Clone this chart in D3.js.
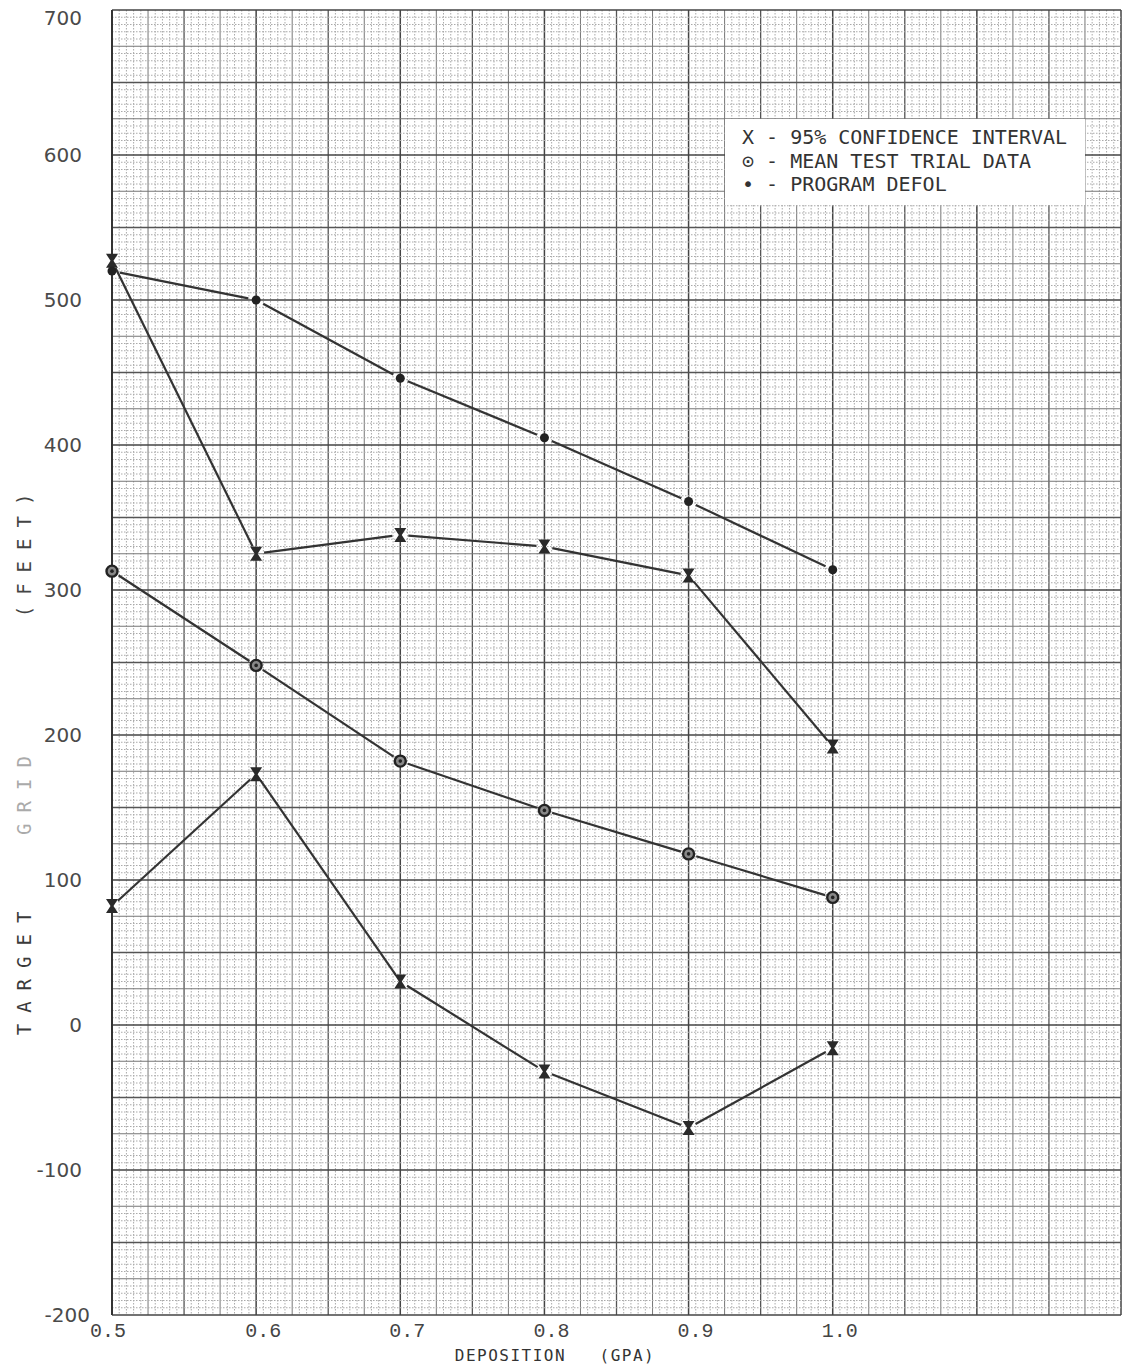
<!DOCTYPE html>
<html>
<head>
<meta charset="utf-8">
<script src="https://cdn.jsdelivr.net/npm/d3@7"></script>
<style>
  body { margin: 0; background: #fff; }
</style>
</head>
<body>
<div id="chart"></div>
<script>
const xValues = [0.5, 0.6, 0.7, 0.8, 0.9, 1.0]
const upperCI = [527, 325, 338, 330, 310, 192]
const meanTrial = [313, 248, 182, 148, 118, 88]
const programDefol = [520, 500, 446, 405, 361, 314]
const lowerCI = [82, 173, 30, -32, -71, -16]

const xTicks = [0.5, 0.6, 0.7, 0.8, 0.9, 1.0]
const yTicks = [-200, -100, 0, 100, 200, 300, 400, 500, 600, 700]
const legendLabels = ["X - 95% CONFIDENCE INTERVAL", "\u2299 - MEAN TEST TRIAL DATA", "\u2022 - PROGRAM DEFOL"]

const W = 1126, H = 1367
const x = d3.scaleLinear().domain([0.5, 1.2]).range([112, 1121])
const y = d3.scaleLinear().domain([-200, 700]).range([1315, 10])

const svg = d3.select('#chart').append('svg')
    .attr('width', W).attr('height', H)

const grid = svg.append('g')

// minor grid: 0.005 in x, 5 units in y
const xMinor = d3.range(0, 141).map(i => 0.5 + i * 0.005)
const yMinor = d3.range(0, 181).map(i => -200 + i * 5)

function lineStyle(i) {
    if (i % 20 === 0) return ['#444', 1.5, null]
    if (i % 10 === 0) return ['#555', 1.3, null]
    if (i % 5 === 0) return ['#777', 1, null]
    return ['#aaa', 1, '1.5,1.5']
}

// draw minor first, then heavier
const vOrder = d3.range(0, 141).sort((a, b) => (a % 5 === 0) - (b % 5 === 0))
grid.selectAll('line.v')
    .data(vOrder)
    .enter().append('line')
    .attr('class', 'v')
    .attr('x1', i => x(xMinor[i])).attr('x2', i => x(xMinor[i]))
    .attr('y1', y(700)).attr('y2', y(-200))
    .attr('stroke', i => lineStyle(i)[0])
    .attr('stroke-width', i => lineStyle(i)[1])
    .attr('stroke-dasharray', i => lineStyle(i)[2])

const hOrder = d3.range(0, 181).sort((a, b) => (a % 5 === 0) - (b % 5 === 0))
grid.selectAll('line.h')
    .data(hOrder)
    .enter().append('line')
    .attr('class', 'h')
    .attr('y1', i => y(yMinor[i])).attr('y2', i => y(yMinor[i]))
    .attr('x1', x(0.5)).attr('x2', x(1.2))
    .attr('stroke', i => lineStyle(i)[0])
    .attr('stroke-width', i => lineStyle(i)[1])
    .attr('stroke-dasharray', i => lineStyle(i)[2])

// left frame
svg.append('line')
    .attr('x1', x(0.5)).attr('x2', x(0.5))
    .attr('y1', y(700)).attr('y2', y(-200))
    .attr('stroke', '#333').attr('stroke-width', 2)

// y tick labels
svg.selectAll('text.ylab')
    .data(yTicks)
    .enter().append('text')
    .attr('class', 'ylab')
    .attr('x', d => d === -200 ? 90 : 82)
    .attr('y', d => Math.max(y(d), 18) + 7)
    .attr('text-anchor', 'end')
    .attr('font-family', 'DejaVu Sans, sans-serif')
    .attr('font-size', 20)
    .attr('fill', '#4a4a4a')
    .text(d => d)

// x tick labels
svg.selectAll('text.xlab')
    .data(xTicks)
    .enter().append('text')
    .attr('class', 'xlab')
    .attr('x', (d, i) => x(d) + (i === 0 ? -4 : 7))
    .attr('y', 1337)
    .attr('text-anchor', 'middle')
    .attr('font-family', 'Liberation Mono, monospace')
    .attr('font-size', 20)
    .attr('fill', '#444')
    .text(d => d.toFixed(1))

svg.append('text')
    .attr('x', 555).attr('y', 1361)
    .attr('text-anchor', 'middle')
    .attr('font-family', 'DejaVu Sans Mono, monospace')
    .attr('font-size', 16)
    .attr('letter-spacing', 1.5)
    .attr('fill', '#333')
    .attr('xml:space', 'preserve')
    .text('DEPOSITION   (GPA)')

// y title pieces
const yTitle = [["TARGET", 968, '#3a3a3a'], ["GRID", 790, '#aaa'], ["(FEET)", 550, '#444']]
svg.selectAll('text.ytitle')
    .data(yTitle)
    .enter().append('text')
    .attr('class', 'ytitle')
    .attr('transform', d => `translate(31,${d[1]}) rotate(-90)`)
    .attr('text-anchor', 'middle')
    .attr('font-family', 'DejaVu Sans Mono, monospace')
    .attr('font-size', 19)
    .attr('letter-spacing', 11)
    .attr('fill', d => d[2])
    .text(d => d[0])

// legend
svg.append('rect')
    .attr('x', 725).attr('y', 119)
    .attr('width', 360).attr('height', 86)
    .attr('fill', '#fff')

svg.selectAll('text.leg')
    .data(legendLabels)
    .enter().append('text')
    .attr('class', 'leg')
    .attr('x', 742)
    .attr('y', (d, i) => 144 + i * 23.5)
    .attr('font-family', 'DejaVu Sans Mono, monospace')
    .attr('font-size', 20)
    .attr('fill', '#333')
    .text(d => d)

// series lines with gaps at markers
const series = [upperCI, meanTrial, programDefol, lowerCI]
const gap = 8
const lines = svg.append('g')
series.forEach(vals => {
    const pts = xValues.map((xv, i) => [x(xv), y(vals[i])])
    d3.pairs(pts).forEach(([a, b]) => {
        const dx = b[0] - a[0], dy = b[1] - a[1]
        const len = Math.hypot(dx, dy)
        const ux = dx / len, uy = dy / len
        lines.append('line')
            .attr('x1', a[0] + ux * gap).attr('y1', a[1] + uy * gap)
            .attr('x2', b[0] - ux * gap).attr('y2', b[1] - uy * gap)
            .attr('stroke', '#333').attr('stroke-width', 2.2)
    })
})

// markers
const hourglass = "M-6,-7 L6,-7 L1.5,0 L6,7 L-6,7 L-1.5,0 Z"
const ciPts = xValues.map((xv, i) => [xv, upperCI[i]]).concat(xValues.map((xv, i) => [xv, lowerCI[i]]))
svg.selectAll('path.ci')
    .data(ciPts)
    .enter().append('path')
    .attr('class', 'ci')
    .attr('transform', d => `translate(${x(d[0])},${y(d[1])})`)
    .attr('d', hourglass)
    .attr('fill', '#2a2a2a')

const meanG = svg.selectAll('g.mean')
    .data(xValues.map((xv, i) => [xv, meanTrial[i]]))
    .enter().append('g')
    .attr('class', 'mean')
    .attr('transform', d => `translate(${x(d[0])},${y(d[1])})`)
meanG.append('circle').attr('r', 5.5)
    .attr('fill', '#888').attr('stroke', '#222').attr('stroke-width', 2.4)
meanG.append('circle').attr('r', 1.8).attr('fill', '#222')

svg.selectAll('circle.prog')
    .data(xValues.map((xv, i) => [xv, programDefol[i]]))
    .enter().append('circle')
    .attr('class', 'prog')
    .attr('cx', d => x(d[0])).attr('cy', d => y(d[1]))
    .attr('r', 4.5)
    .attr('fill', '#222')
</script>
</body>
</html>
